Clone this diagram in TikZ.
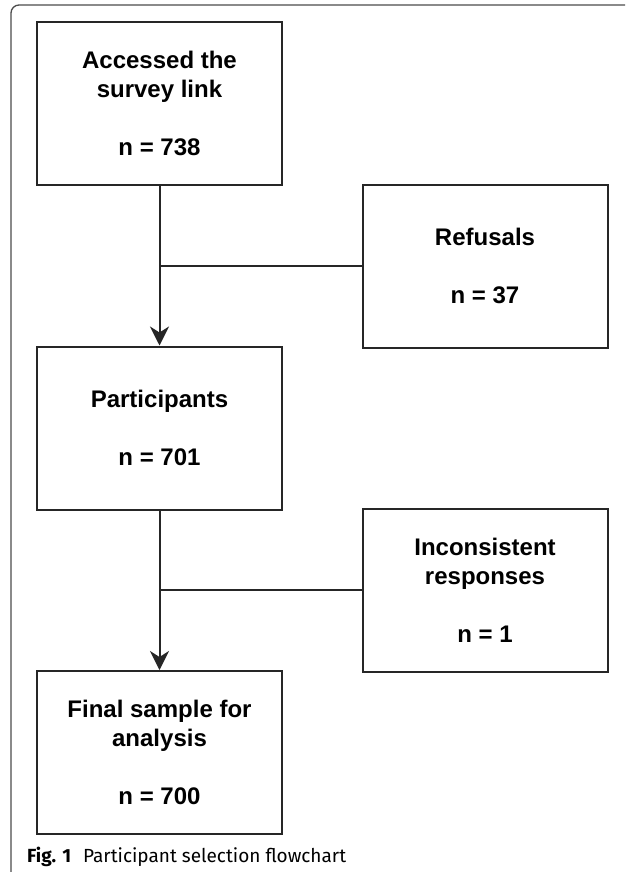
\documentclass[tikz,border=0pt]{standalone}
\usepackage{fontspec}
\setmainfont{Liberation Sans}
\newfontfamily\capfont{Fira Sans}
\usetikzlibrary{arrows.meta}
\tikzset{
  stagebox/.style={draw=black!85, line width=2pt, minimum width=245pt, minimum height=163pt,
    inner sep=0pt, align=center, font=\fontsize{24}{29}\selectfont\bfseries},
  conn/.style={draw=black!85, line width=2pt},
  arr/.style={conn, -{Stealth[length=19pt,width=19pt,inset=6pt]}},
  frameline/.style={draw=black!70, line width=1.3pt, rounded corners=8pt}
}
\begin{document}
\begin{tikzpicture}[x=1pt,y=-1pt]
\useasboundingbox (0,0) rectangle (627,872);
\draw[frameline] (11,872) -- (11,5) -- (625,5);
\node[stagebox] (b1) at (159.5,103.5) {Accessed the\\survey link\\[29pt]n = 738};
\node[stagebox] (ref) at (485,266) {Refusals\\[29pt]n = 37};
\node[stagebox] (part) at (159.5,428) {Participants\\[29pt]n = 701};
\node[stagebox] (inc) at (485,590) {Inconsistent\\responses\\[29pt]n = 1};
\node[stagebox] (fin) at (159.5,752.5) {Final sample for\\analysis\\[29pt]n = 700};
\draw[arr] (b1.south) -- (part.north);
\draw[conn] (ref.west) -- (b1.south |- ref.west);
\draw[arr] (part.south) -- (fin.north);
\draw[conn] (inc.west) -- (part.south |- inc.west);
\node[anchor=base west, inner sep=0pt, font=\capfont\fontsize{19}{22}\selectfont] (cap) at (27,862)
  {\textbf{Fig. 1}\hspace{12pt}Participant selection flowchart};
\end{tikzpicture}
\end{document}
